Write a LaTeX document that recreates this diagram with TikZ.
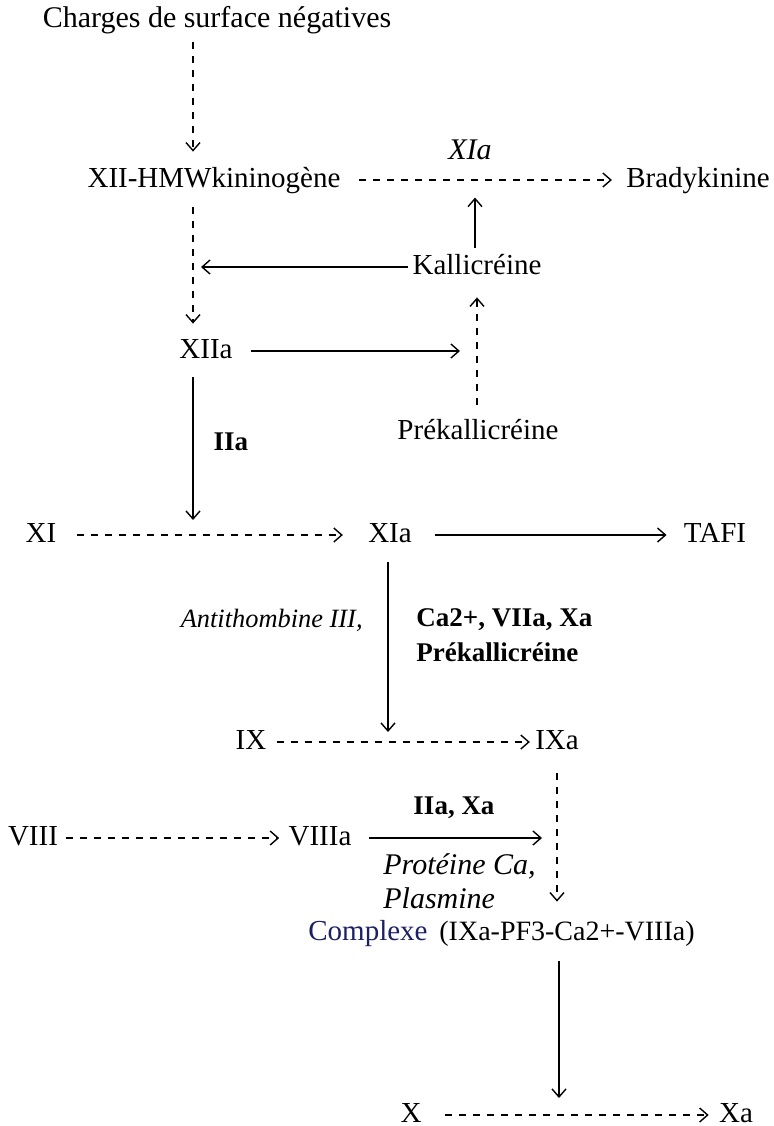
\documentclass[tikz,border=0pt]{standalone}
\usepackage{fontspec}
\setmainfont{Liberation Serif}
\usetikzlibrary{arrows.meta,positioning,calc}
\definecolor{complexBlue}{RGB}{28,32,100}
\tikzset{
  >={Straight Barb[length=4pt,width=7pt]},
  species/.style={font=\fontsize{14.5}{17}\selectfont, inner sep=2pt, text height=10pt, text depth=3pt},
  enzyme/.style={font=\bfseries\fontsize{13.5}{17.5}\selectfont, inner sep=1pt},
  inhib/.style={font=\itshape\fontsize{15}{17}\selectfont, inner sep=1pt},
  activ/.style={->, line width=0.7pt},
  conv/.style={->, line width=0.7pt, dash pattern=on 3.5pt off 3.5pt},
}

\begin{document}
\begin{tikzpicture}[x=0.5pt, y=-0.5pt]
\useasboundingbox (0,0) rectangle (774,1126);

% Column anchors
\coordinate (Cleft) at (193,0); % XII column
\coordinate (Cmid) at (388,0);  % XIa column
\coordinate (Ckal) at (477,0);  % kallikrein column
\coordinate (Cix) at (557,0);   % IXa column

% ===== Contact phase =====
\node[species, font=\fontsize{15}{17}\selectfont] (charges) at (217,20) {Charges de surface négatives};
\node[species] (xii) at (214,180) {XII-HMWkininogène};
\node[species] (brady) at (698,180) {Bradykinine};
\node[inhib] (lblXIa) at (470,150) {XIa};
\draw[conv,shorten <=2.5pt,shorten >=5.5pt] (charges.south -| Cleft) -- (xii.north -| Cleft);
\draw[conv,shorten <=7pt,shorten >=5pt] (xii.east) -- (brady.west);

% ===== Kallikrein loop =====
\node[species] (kal) at (477,267) {Kallicréine};
\node[species] (xiia) at (206,351) {XIIa};
\node[species] (prekal) at (478,432) {Prékallicréine};
\coordinate (kalTip) at ($(kal.north)+(-2,-52)$);
\coordinate (kalLeftTip) at ($(Cleft |- kal)+(8,0)$);
\coordinate (xiiaTip) at ($(Ckal |- xiia)+(-17,0)$);
\draw[activ,shorten <=1pt] ($(kal.north)+(-2,0)$) -- (kalTip);
\draw[activ] (kal.west) -- (kalLeftTip);
\draw[conv,shorten <=5pt,shorten >=5pt] (xii.south -| Cleft) -- (xiia.north -| Cleft);
\draw[activ,shorten <=7pt] (xiia.east) -- (xiiaTip);
\draw[conv,shorten <=5pt,shorten >=6.5pt] (prekal.north -| Ckal) -- (kal.south -| Ckal);

% ===== XI activation =====
\node[species] (xi) at (41,535) {XI};
\node[species] (xia) at (390,535) {XIa};
\node[species] (tafi) at (715,535) {TAFI};
\node[enzyme] (lblIIa) at (231,442) {IIa};
\coordinate (xiiaDown) at ($(Cleft |- xi)+(0,-15)$);
\draw[activ,shorten <=4.5pt] (xiia.south -| Cleft) -- (xiiaDown);
\draw[conv,shorten <=8pt,shorten >=10.5pt] (xi.east) -- (xia.west);
\draw[activ,shorten <=9.5pt,shorten >=6.5pt] (xia.east) -- (tafi.west);

% ===== IX activation =====
\node[species] (ix) at (251,742) {IX};
\node[species] (ixa) at (557,742) {IXa};
\node[inhib, font=\itshape\fontsize{13.2}{16}\selectfont, anchor=east] (lblAT) at (365,620) {Antithombine III,};
\node[enzyme, anchor=north west, align=left] (lblCa) at (414,606) {Ca2+, VIIa, Xa\\Prékallicréine};
\coordinate (xiaDown) at ($(Cmid |- ix)+(0,-10)$);
\draw[activ,shorten <=5pt] (xia.south -| Cmid) -- (xiaDown);
\draw[conv,shorten <=3pt,shorten >=0.5pt] (ix.east) -- (ixa.west);

% ===== VIII activation and tenase complex =====
\node[species] (viii) at (33,838) {VIII};
\node[species] (viiia) at (320,838) {VIIIa};
\node[enzyme] (lblIIaXa) at (454,808) {IIa, Xa};
\node[inhib, anchor=north west, align=left] (lblPC) at (381,851) {Protéine Ca,\\Plasmine};
\node[species, font=\fontsize{14}{16}\selectfont, anchor=west] (cplx) at (435,933) {(IXa-PF3-Ca2+-VIIIa)};
\node[species, text=complexBlue, left=1.5pt of cplx] (cplxLbl) {Complexe};
\coordinate (viiiaTip) at ($(Cix |- viiia)+(-15,0)$);
\draw[conv,shorten <=2pt,shorten >=2.5pt] (viii.east) -- (viiia.west);
\draw[activ,shorten <=6.5pt] (viiia.east) -- (viiiaTip);
\draw[conv,shorten <=7pt,shorten >=7pt] (ixa.south -| Cix) -- (cplx.north -| Cix);

% ===== X activation =====
\node[species] (x) at (411,1115) {X};
\node[species] (xa) at (736,1115) {Xa};
\coordinate (cplxDown) at ($(Cix |- x)+(2,-17)$);
\draw[activ,shorten <=5.5pt] ($(cplx.south -| Cix)+(2,0)$) -- (cplxDown);
\draw[conv,shorten <=9.5pt,shorten >=3pt] (x.east) -- (xa.west);

\end{tikzpicture}
\end{document}
